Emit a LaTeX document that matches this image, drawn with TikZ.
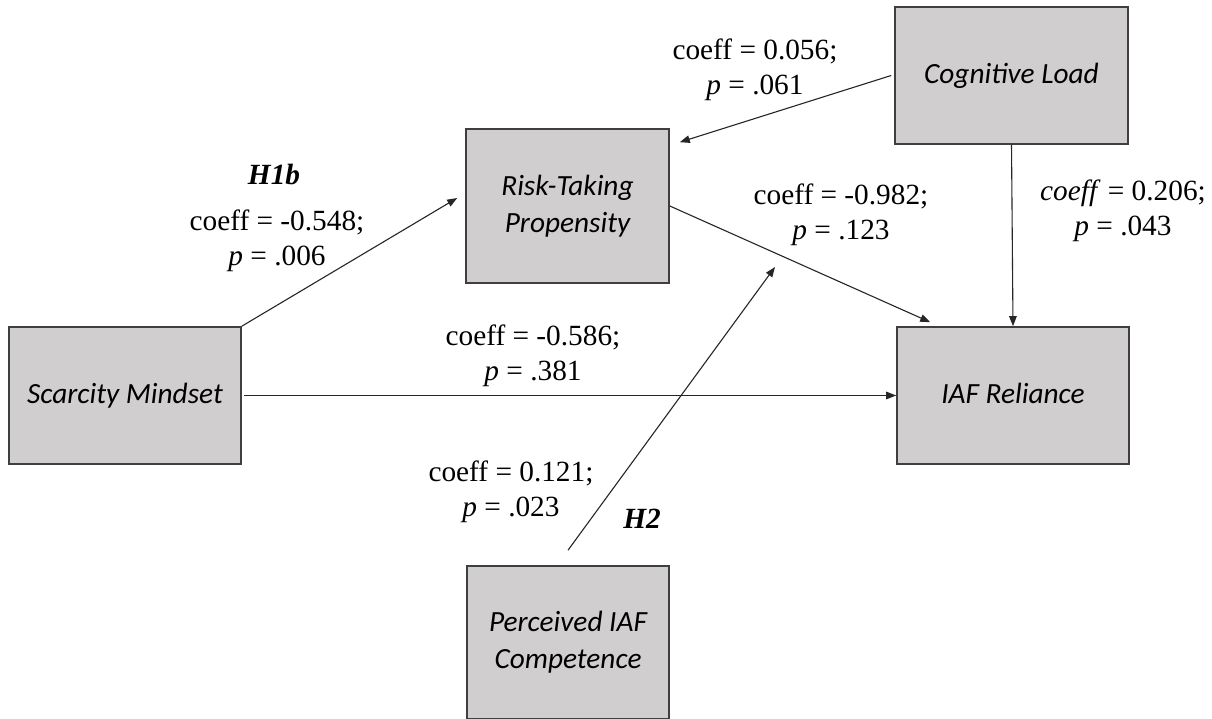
\documentclass[tikz,border=0pt]{standalone}
\usepackage{fontspec}
\setmainfont{Liberation Serif}
\newfontfamily\boxfont{Carlito}
\usetikzlibrary{arrows.meta,positioning}
\definecolor{boxfill}{HTML}{D0CECE}
\definecolor{boxline}{HTML}{3F3F3F}
\definecolor{linecol}{HTML}{262626}
\begin{document}
\begin{tikzpicture}[x=1pt,y=-1pt,
  varbox/.style={draw=boxline, line width=1.6pt, fill=boxfill, rectangle, inner sep=0pt,
    align=center, font=\boxfont\itshape\fontsize{29.3}{37}\selectfont},
  conn/.style={draw=linecol, line width=1.1pt, -{Triangle[length=10pt,width=7.5pt]}},
  lab/.style={align=center, font=\fontsize{29.3}{35}\selectfont, inner sep=0pt},
  hyp/.style={font=\bfseries\itshape\fontsize{29.3}{35}\selectfont, inner sep=0pt}]
\useasboundingbox (0,0) rectangle (1212,719);
\clip (0,0) rectangle (1212,719);
\fill[white] (0,0) rectangle (1212,719);
% boxes
\node[varbox, minimum width=232pt, minimum height=137pt] (SM) at (125,395.5) {Scarcity Mindset};
\node[varbox, minimum width=203pt, minimum height=154pt] (RT) at (567.5,206) {Risk-Taking\\Propensity};
\node[varbox, minimum width=233pt, minimum height=137pt] (CL) at (1011.5,75.5) {\raisebox{4pt}{Cognitive Load}};
\node[varbox, minimum width=232pt, minimum height=137pt] (IAF) at (1013,395.5) {\raisebox{4pt}{IAF Reliance}};
\node[varbox, minimum width=202pt, minimum height=153pt] (PC) at (568,642.5) {Perceived IAF\\Competence};
% free end of the moderation arrow
\coordinate (mod) at (775,267);
% connectors
\draw[conn] (SM.north east) -- ([xshift=-8pt,yshift=8pt]RT.west);
\draw[conn] ([xshift=2pt]SM.east) -- (IAF.west);
\draw[conn] ([xshift=-3pt]CL.west) -- ([xshift=10pt,yshift=-14pt]RT.north east);
\draw[conn] (RT.east) -- ([xshift=34pt,yshift=4pt]IAF.north west);
\draw[conn] (CL.south) -- (IAF.north);
\draw[conn] ([yshift=15pt]PC.north) -- (mod);
% labels
\node[hyp] (h1b) at (274,175) {H1b};
\node[lab] (l1) at (277,240.5) {coeff = -0.548;\\\textit{p} = .006};
\node[lab] (l2) at (755,69.5) {coeff = 0.056;\\\textit{p} = .061};
\node[lab] (l3) at (841,215) {coeff = -0.982;\\\textit{p} = .123};
\node[lab] (l4) at (1123,211) {\textit{coeff} = 0.206;\\\textit{p} = .043};
\node[lab] (l5) at (533,355.5) {coeff = -0.586;\\\textit{p} = .381};
\node[lab] (l6) at (511,491.5) {coeff = 0.121;\\\textit{p} = .023};
\node[hyp] (h2) at (642,519) {H2};
\end{tikzpicture}
\end{document}
